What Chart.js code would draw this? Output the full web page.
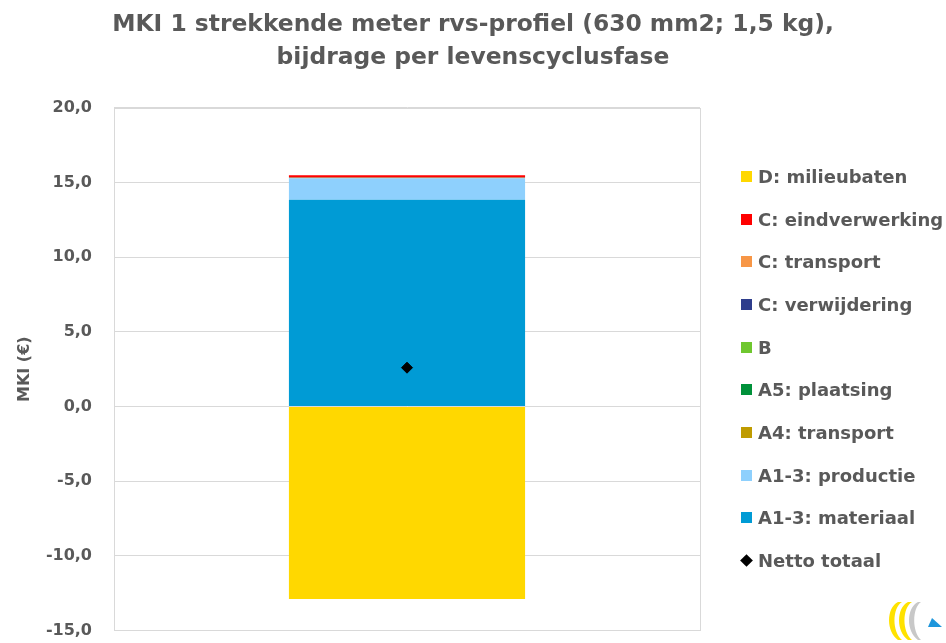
<!DOCTYPE html>
<html>
<head>
<meta charset="utf-8">
<script src="https://cdn.jsdelivr.net/npm/chart.js@4"></script>
<style>
  html, body { margin: 0; padding: 0; background: #fff; }
  #wrap { position: relative; width: 946px; height: 643px; }
  #wrap canvas { display: block; }
  #logo { position: absolute; left: 884px; top: 598px; }
  #legend { position: absolute; left: 741px; top: 0; font: bold 18px 'DejaVu Sans'; color: #595959; }
  .item { position: absolute; left: 0; height: 22px; line-height: 22px; white-space: nowrap; }
  .item .box { position: absolute; left: 0; top: 5px; width: 11px; height: 11px; }
  .item .box.diamond { left: 1px; top: 6px; width: 9px; height: 9px; transform: rotate(45deg); }
  .item .txt { position: absolute; left: 17px; top: 0; }
</style>
</head>
<body>
<div id="wrap">
  <canvas id="chart" width="946" height="643"></canvas>
  <div id="legend"></div>
  <svg id="logo" width="60" height="45" viewBox="0 0 60 45">
    <path d="M14 4 C2 10 2 34 14 42 L18 42 C8 34 8 10 18 4 Z" fill="#ffe200"/>
    <path d="M24 4 C12 10 12 34 24 42 L28 42 C18 34 18 10 28 4 Z" fill="#ffe200"/>
    <path d="M34 4 C22 10 22 34 34 42 L37 42 C28 34 28 10 37 4 Z" fill="#c8c8c8"/>
    <path d="M48 20 L58 29 L44 29 Z" fill="#1e96dc"/>
  </svg>
</div>
<script>
// --- data ---
const categories = [''];
const faseLabels = [
  'A1-3: materiaal', 'A1-3: productie', 'A4: transport', 'A5: plaatsing', 'B',
  'C: verwijdering', 'C: transport', 'C: eindverwerking', 'D: milieubaten'
];
const faseValues = [13.85, 1.45, 0.02, 0.01, 0, 0.01, 0.01, 0.15, -12.9];
const nettoLabel = 'Netto totaal';
const nettoTotaal = [2.6];
const yTickMin = -15;
const yTickMax = 20;
const yTickStep = 5;

// --- styles ---
const faseColors = [
  '#009bd5', '#8ed0fd', '#bf9b00', '#00913a', '#6fc72f',
  '#2e3d8c', '#f79646', '#ff0000', '#ffd800'
];
const textColor = '#595959';
const gridColor = '#d9d9d9';

Chart.defaults.font.family = 'DejaVu Sans';
Chart.defaults.color = textColor;

const datasets = faseLabels.map((label, i) => ({
  type: 'bar',
  label,
  data: [faseValues[i]],
  backgroundColor: faseColors[i],
  borderWidth: 0,
  stack: 'fases',
  barPercentage: 0.403,
  categoryPercentage: 1
}));

datasets.push({
  type: 'line',
  label: nettoLabel,
  data: nettoTotaal,
  showLine: false,
  stack: 'netto',
  order: -1, // draw on top of the bars
  pointStyle: 'rectRot',
  pointRadius: 5.5,
  pointBorderWidth: 1,
  backgroundColor: '#000',
  borderColor: '#000'
});

// thin border round the plot area
const plotBorder = {
  id: 'plotBorder',
  beforeDatasetsDraw(chart) {
    const { ctx, chartArea: a } = chart;
    ctx.save();
    ctx.strokeStyle = gridColor;
    ctx.lineWidth = 1;
    ctx.strokeRect(Math.round(a.left) + 0.5, Math.round(a.top) + 0.5,
      Math.round(a.right - a.left), Math.round(a.bottom - a.top));
    ctx.restore();
  }
};

const chart = new Chart(document.getElementById('chart'), {
  data: { labels: categories, datasets },
  options: {
    responsive: false,
    animation: false,
    devicePixelRatio: 1,
    layout: { padding: 0 },
    plugins: {
      title: {
        display: true,
        text: ['MKI 1 strekkende meter rvs-profiel (630 mm2; 1,5 kg),', 'bijdrage per levenscyclusfase'],
        color: textColor,
        font: { size: 23.4, weight: 'bold', lineHeight: 1.41 },
        padding: { top: 8, bottom: 34 }
      },
      legend: { display: false },
      tooltip: { enabled: false }
    },
    scales: {
      x: {
        stacked: true,
        ticks: { display: false },
        grid: { display: false, drawTicks: false },
        border: { display: false },
        afterFit: scale => { scale.height = 0; }
      },
      y: {
        stacked: true,
        min: yTickMin,
        max: yTickMax,
        ticks: {
          stepSize: yTickStep,
          padding: 3,
          font: { size: 16, weight: 'bold' },
          color: textColor,
          callback: v => v.toFixed(1).replace('.', ',')
        },
        // invisible tick marks give the gap between labels and plot
        grid: { color: gridColor, drawTicks: true, tickLength: 19, tickColor: 'rgba(0,0,0,0)' },
        border: { color: gridColor },
        title: {
          display: true,
          text: 'MKI (€)',
          color: textColor,
          font: { size: 16, weight: 'bold' },
          padding: { top: 15, bottom: 4 }
        },
        afterFit: scale => { scale.width = 114; }
      },
      // empty right axis keeps room for the legend
      y2: {
        position: 'right',
        min: yTickMin,
        max: yTickMax,
        ticks: { display: false },
        grid: { display: false, drawTicks: false },
        border: { display: false },
        afterFit: scale => { scale.width = 246; }
      }
    }
  },
  plugins: [plotBorder]
});

// legend: D on top down to materiaal, netto totaal last
const legendEl = document.getElementById('legend');
const legendItems = faseLabels.map((label, i) => ({ label, color: faseColors[i], diamond: false })).reverse();
legendItems.push({ label: nettoLabel, color: '#000', diamond: true });
legendItems.forEach((it, i) => {
  const row = document.createElement('div');
  row.className = 'item';
  row.style.top = (177 - 11 + i * 42.67) + 'px';
  const box = document.createElement('span');
  box.className = 'box' + (it.diamond ? ' diamond' : '');
  box.style.background = it.color;
  const txt = document.createElement('span');
  txt.className = 'txt';
  txt.textContent = it.label;
  row.append(box, txt);
  legendEl.appendChild(row);
});
</script>
</body>
</html>
